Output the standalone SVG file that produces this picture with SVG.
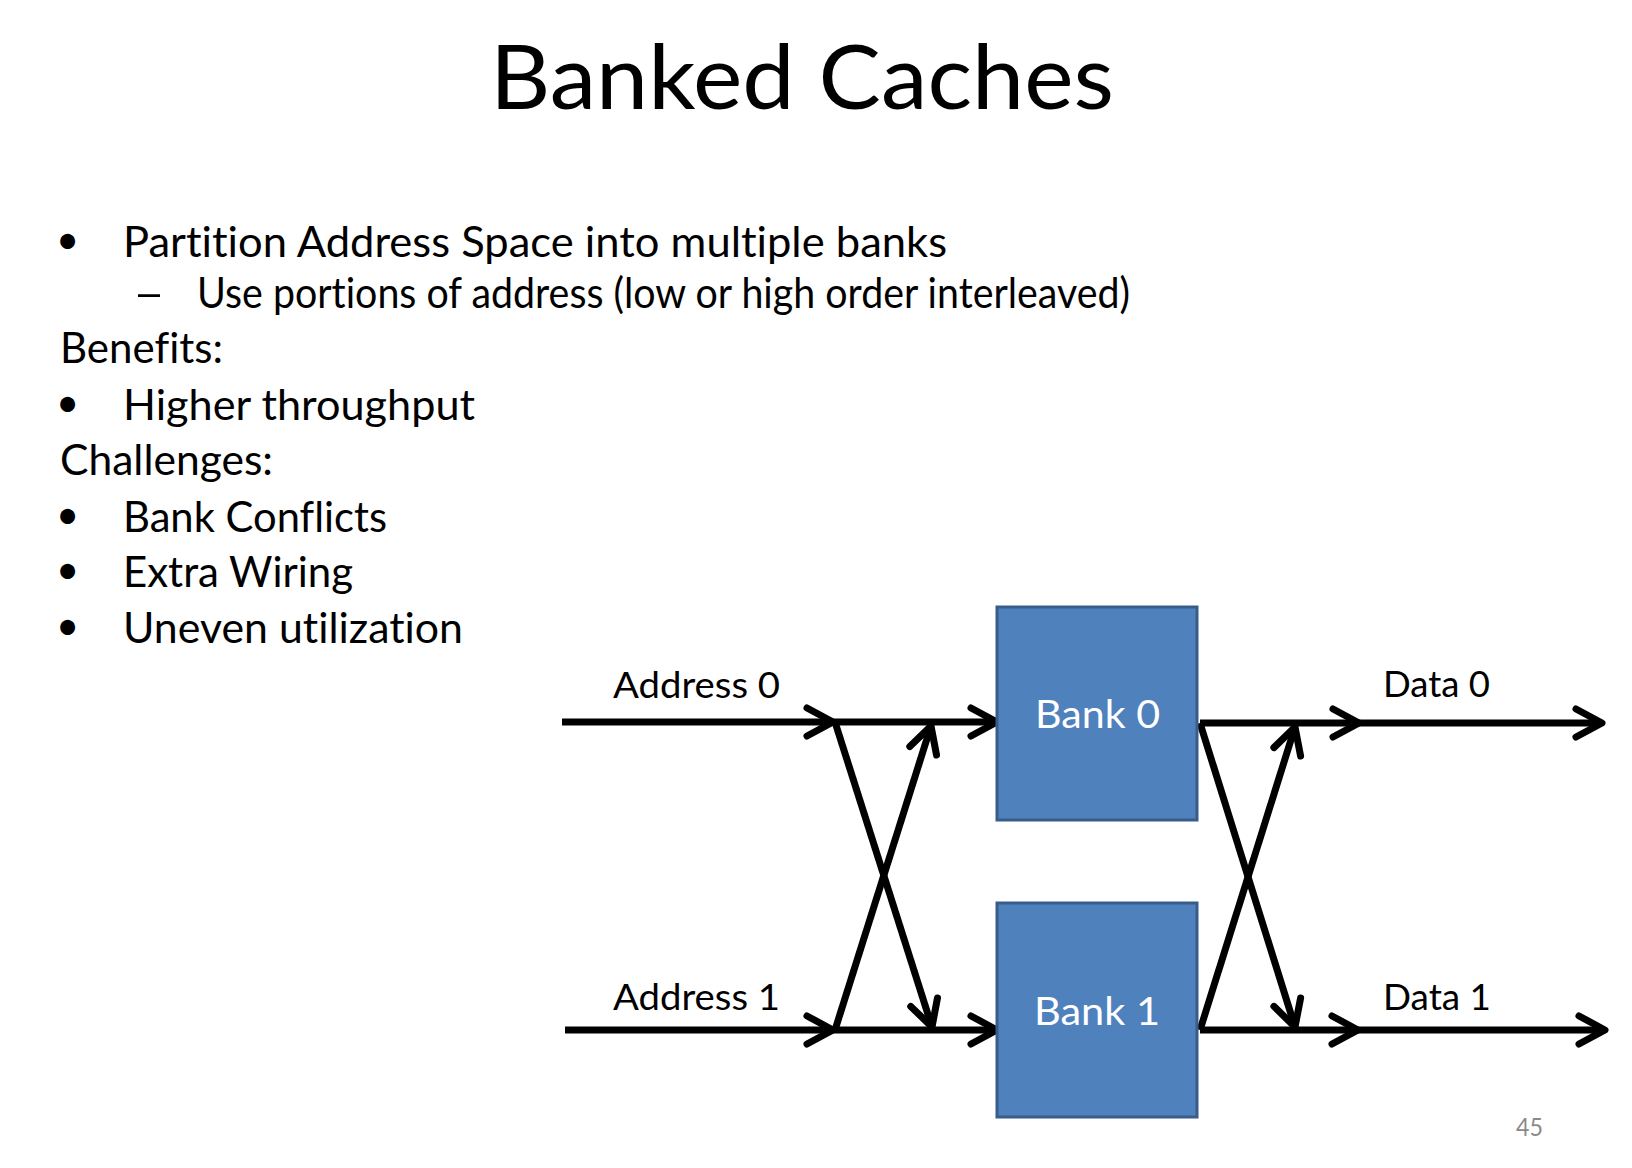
<svg xmlns="http://www.w3.org/2000/svg" width="1632" height="1168" viewBox="0 0 1632 1168">
<defs>
<style>
.t{font-family:Lato,"Open Sans","Liberation Sans",sans-serif;fill:#000;font-variant-ligatures:none;font-feature-settings:"liga" 0,"dlig" 0}
.title{font-size:90px}
.body{font-size:42px}
.bul{font-size:40px}
.lab{font-size:36px}
.bank{font-size:39px;fill:#fff}
.pg{font-size:25px;fill:#898989}
.bankrect{fill:#4F81BD;stroke:#385D8A;stroke-width:3}
.wire{stroke:#000;stroke-width:7;fill:none;marker-end:url(#arr)}
</style>
<marker id="arr" markerUnits="userSpaceOnUse" viewBox="-32 -20 38 40" markerWidth="38" markerHeight="40" refX="0" refY="0" orient="auto" overflow="visible">
<path d="M-26,-14 L0,0 L-26,14" fill="none" stroke="#000" stroke-width="7" stroke-linecap="round" stroke-linejoin="round"/>
</marker>
</defs>
<rect width="1632" height="1168" fill="#fff"/>
<g id="title"><text class="t title" x="490" y="109" textLength="624" lengthAdjust="spacingAndGlyphs">Banked Caches</text></g>
<g id="bullets">
<text class="t bul" x="56" y="254">•</text>
<text class="t body" x="123" y="257" textLength="824" lengthAdjust="spacingAndGlyphs">Partition Address Space into multiple banks</text>
<text class="t body" x="133" y="308" textLength="32" lengthAdjust="spacingAndGlyphs">–</text>
<text class="t body" x="197" y="308" textLength="933" lengthAdjust="spacingAndGlyphs">Use portions of address (low or high order interleaved)</text>
<text class="t body" x="60" y="363" textLength="163" lengthAdjust="spacingAndGlyphs">Benefits:</text>
<text class="t bul" x="56" y="417">•</text>
<text class="t body" x="123" y="420" textLength="352" lengthAdjust="spacingAndGlyphs">Higher throughput</text>
<text class="t body" x="60" y="475" textLength="213" lengthAdjust="spacingAndGlyphs">Challenges:</text>
<text class="t bul" x="56" y="529">•</text>
<text class="t body" x="123" y="532" textLength="264" lengthAdjust="spacingAndGlyphs">Bank Conflicts</text>
<text class="t bul" x="56" y="584">•</text>
<text class="t body" x="123" y="587" textLength="230" lengthAdjust="spacingAndGlyphs">Extra Wiring</text>
<text class="t bul" x="56" y="640">•</text>
<text class="t body" x="123" y="643" textLength="340" lengthAdjust="spacingAndGlyphs">Uneven utilization</text>
</g>
<g id="connectors">
<line class="wire" x1="562" y1="722" x2="833" y2="722"/>
<line class="wire" x1="833" y1="722" x2="997" y2="722"/>
<line class="wire" x1="565" y1="1030" x2="833" y2="1030"/>
<line class="wire" x1="833" y1="1030" x2="997" y2="1030"/>
<line class="wire" x1="835" y1="722" x2="932" y2="1027"/>
<line class="wire" x1="835" y1="1030" x2="931" y2="726"/>
<line class="wire" x1="1200" y1="723" x2="1359" y2="723"/>
<line class="wire" x1="1359" y1="723" x2="1602" y2="723"/>
<line class="wire" x1="1200" y1="1030" x2="1358" y2="1030"/>
<line class="wire" x1="1358" y1="1030" x2="1605" y2="1030"/>
<line class="wire" x1="1200" y1="723" x2="1295" y2="1027"/>
<line class="wire" x1="1200" y1="1030" x2="1295" y2="727"/>
</g>
<g id="label-address0"><text class="t lab" x="613" y="698" textLength="167" lengthAdjust="spacingAndGlyphs">Address 0</text></g>
<g id="label-address1"><text class="t lab" x="613" y="1010" textLength="167" lengthAdjust="spacingAndGlyphs">Address 1</text></g>
<g id="bank0"><rect class="bankrect" x="997" y="607" width="200" height="213"/><text class="t bank" x="1035" y="728" textLength="125" lengthAdjust="spacingAndGlyphs">Bank 0</text></g>
<g id="bank1"><rect class="bankrect" x="997" y="903" width="200" height="214"/><text class="t bank" x="1034" y="1025" textLength="126" lengthAdjust="spacingAndGlyphs">Bank 1</text></g>
<g id="label-data0"><text class="t lab" x="1383" y="697" textLength="107" lengthAdjust="spacingAndGlyphs">Data 0</text></g>
<g id="label-data1"><text class="t lab" x="1383" y="1010" textLength="108" lengthAdjust="spacingAndGlyphs">Data 1</text></g>
<g id="page"><text class="t pg" x="1516" y="1136" textLength="27" lengthAdjust="spacingAndGlyphs">45</text></g>
</svg>
